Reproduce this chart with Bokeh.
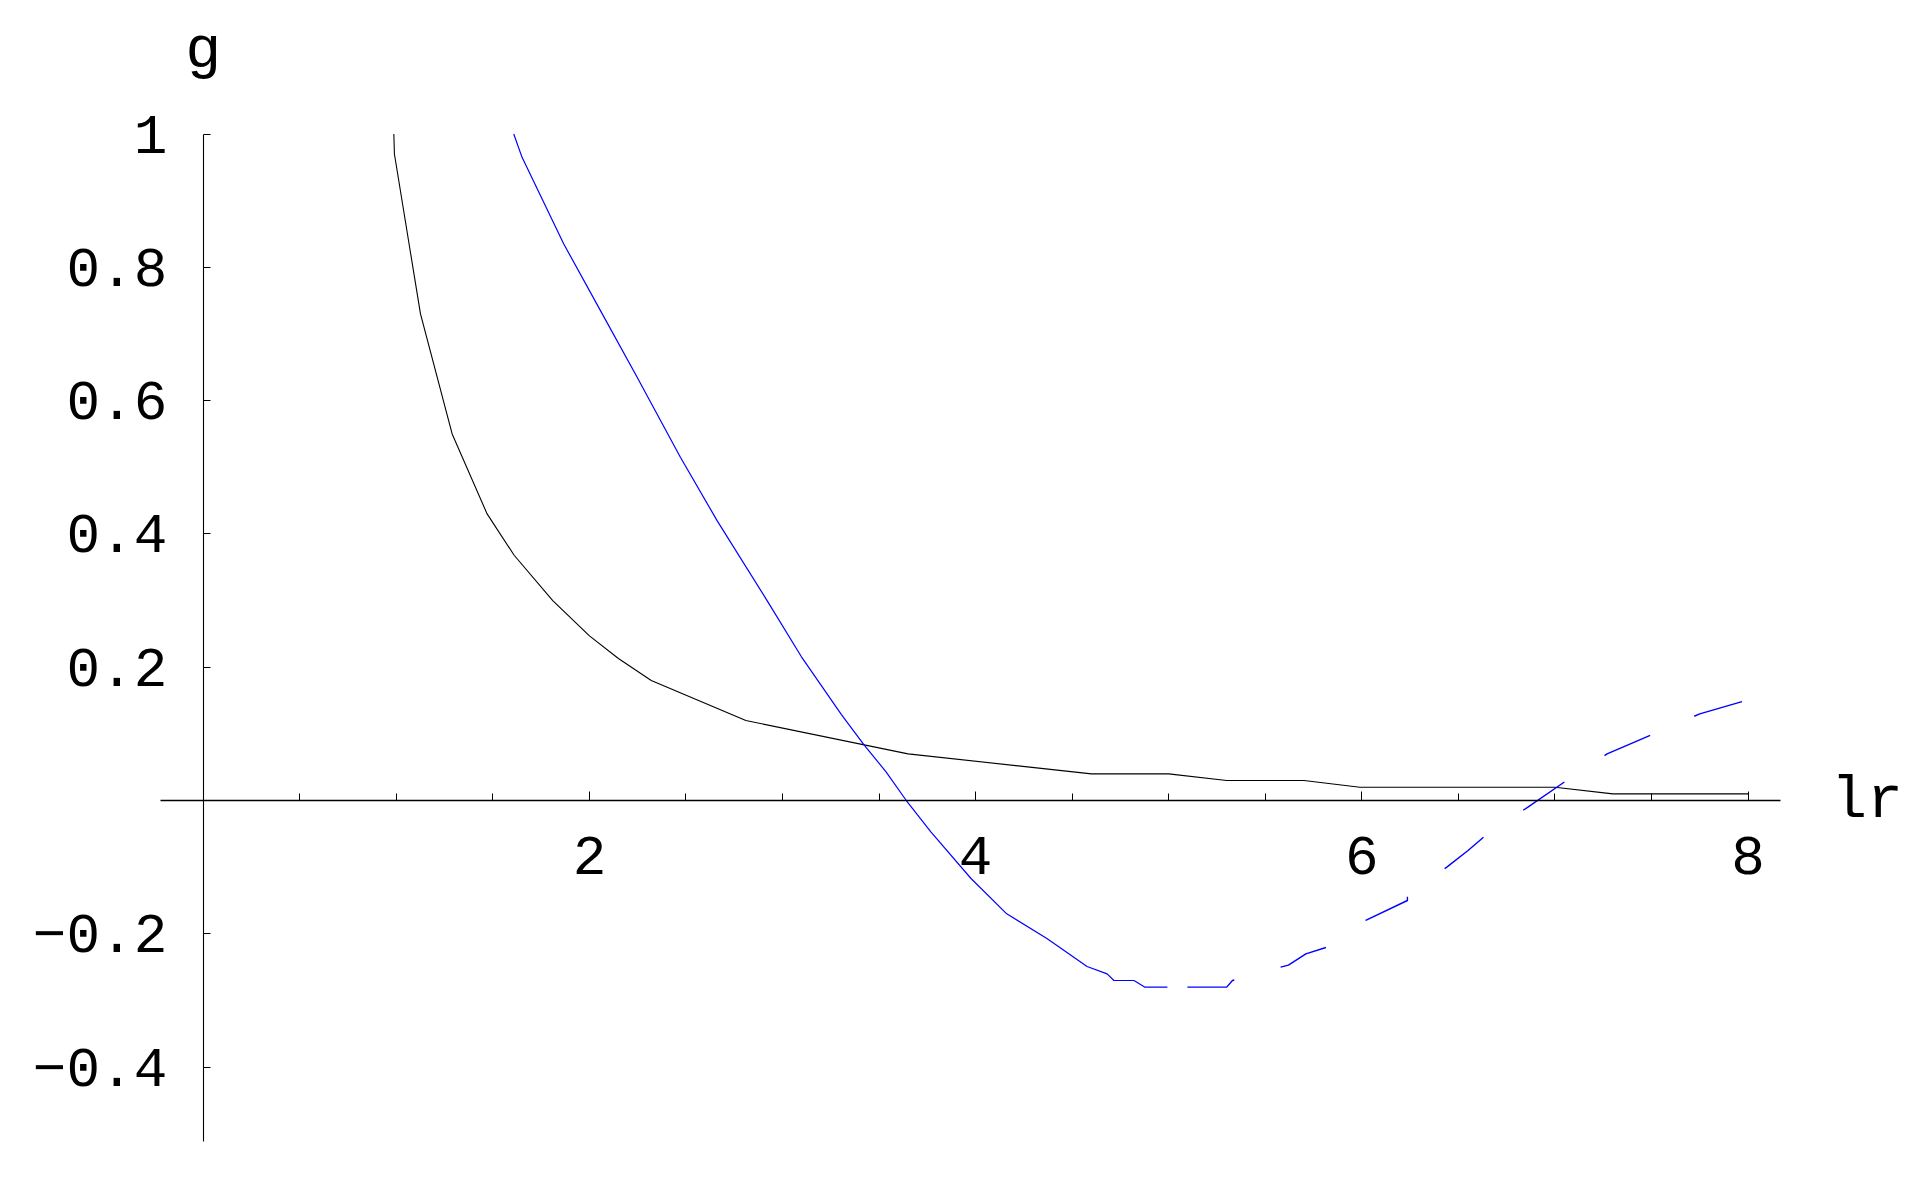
from bokeh.plotting import figure
from bokeh.models import Range1d, FixedTicker, Label
from bokeh.embed import file_html
from bokeh.resources import INLINE

# ---- data ----
black_x = [0.987, 0.99, 1.125, 1.289, 1.47, 1.61, 1.81, 2.0, 2.15, 2.32, 2.81,
           3.65, 4.60, 5.0, 5.3, 5.7, 5.99, 7.0, 7.3, 8.0]
black_y = [1.0, 0.97, 0.73, 0.55, 0.43, 0.368, 0.30, 0.247, 0.213, 0.18, 0.12,
           0.07, 0.04, 0.04, 0.03, 0.03, 0.02, 0.02, 0.01, 0.01]

blue_solid_x = [1.608, 1.651, 1.867, 2.057, 2.247, 2.471, 2.661, 2.92, 3.097,
                3.305, 3.421, 3.536, 3.641, 3.768, 3.976, 4.161, 4.369, 4.577,
                4.681, 4.716, 4.82, 4.877, 4.993]
blue_solid_y = [1.0, 0.965, 0.835, 0.735, 0.635, 0.515, 0.42, 0.30, 0.216,
                0.129, 0.084, 0.043, 0.0, -0.047, -0.117, -0.170, -0.207, -0.249,
                -0.26, -0.27, -0.27, -0.28, -0.28]

blue_dash_x = [4.993, 5.30, 5.33, 5.58, 5.62, 5.71, 5.82, 6.02, 6.236, 6.236,
               6.44, 6.55, 6.65, 6.86, 7.06, 7.27, 7.51, 7.75, 8.0]
blue_dash_y = [-0.28, -0.28, -0.27, -0.25, -0.247, -0.23, -0.22, -0.18, -0.15, -0.14,
               -0.10, -0.075, -0.05, -0.01, 0.03, 0.07, 0.10, 0.13, 0.151]

x_major = [2, 4, 6, 8]
x_minor = [0.5, 1, 1.5, 2.5, 3, 3.5, 4.5, 5, 5.5, 6.5, 7, 7.5]
y_ticks = [-0.4, -0.2, 0.2, 0.4, 0.6, 0.8, 1.0]
y_labels = ["\u22120.4", "\u22120.2", "0.2", "0.4", "0.6", "0.8", "1"]

FONT = "Liberation Mono"

p = figure(width=1908, height=1170,
           x_range=Range1d(-1.050, 8.831), y_range=Range1d(-0.5551, 1.2003),
           output_backend="svg", toolbar_location=None, min_border=0)
p.outline_line_color = None
p.grid.visible = False
p.background_fill_color = "white"
p.border_fill_color = "white"

p.xaxis.fixed_location = 0
p.yaxis.fixed_location = 0
p.xaxis.bounds = (-0.22, 8.17)
p.yaxis.bounds = (-0.511, 1.0)

p.xaxis.ticker = FixedTicker(ticks=x_major, minor_ticks=x_minor)
p.yaxis.ticker = FixedTicker(ticks=y_ticks, minor_ticks=[])
p.yaxis.major_label_overrides = {t: l for t, l in zip(y_ticks, y_labels)}

for ax in (p.xaxis, p.yaxis):
    ax.axis_line_color = "black"
    ax.major_tick_line_color = "black"
    ax.minor_tick_line_color = "black"
    ax.major_tick_out = 0
    ax.minor_tick_out = 0
    ax.major_label_text_font = FONT
    ax.major_label_text_font_size = "56px"
    ax.major_label_text_color = "black"
    ax.major_label_text_font_style = "normal"

p.xaxis.axis_line_width = 1.6
p.yaxis.axis_line_width = 1.1
p.xaxis.major_tick_in = 9
p.xaxis.minor_tick_in = 7
p.yaxis.major_tick_in = 7
p.yaxis.minor_tick_line_color = None
p.xaxis.major_label_standoff = 36
p.yaxis.major_label_standoff = 36

p.line(black_x, black_y, line_color="black", line_width=1.1)
p.line(blue_solid_x, blue_solid_y, line_color="#0000ff", line_width=1.2)
p.line(blue_dash_x, blue_dash_y, line_color="#0000ff", line_width=1.4,
       line_dash="50 48", line_dash_offset=78)

p.add_layout(Label(x=0, y=1.124, text="g", text_font=FONT, text_font_size="60px",
                   text_align="center", text_baseline="alphabetic", text_color="black"))
p.add_layout(Label(x=8.43, y=0.0, text="lr", text_font=FONT, text_font_size="60px",
                   text_align="left", text_baseline="alphabetic", text_color="black"))

open("out.html", "w").write(file_html(p, INLINE))
